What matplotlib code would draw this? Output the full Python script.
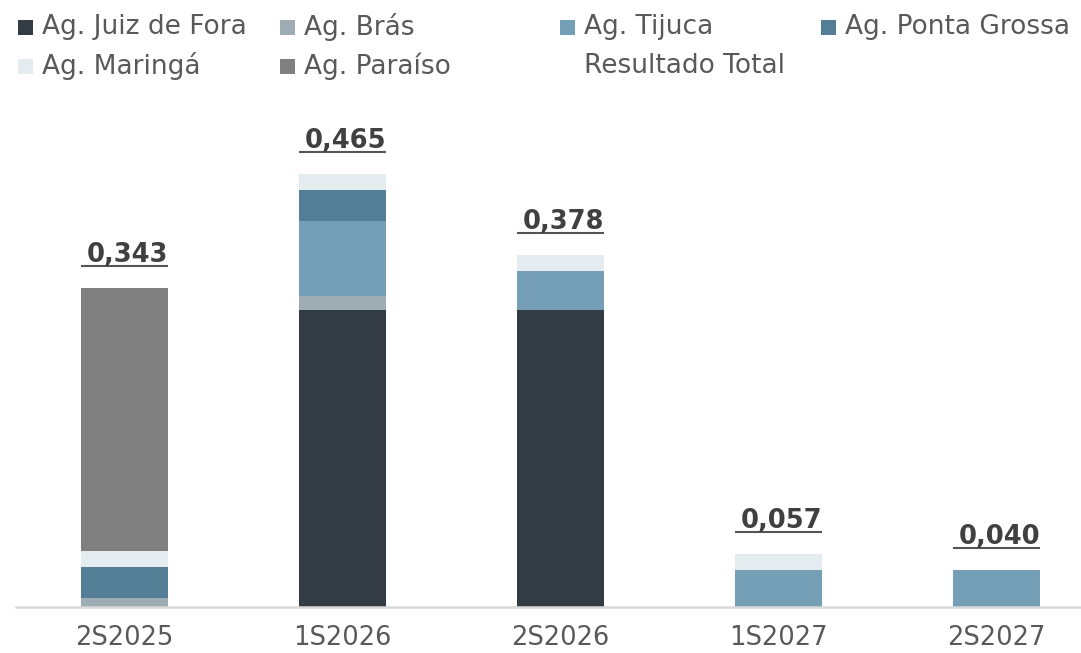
import matplotlib
matplotlib.use("Agg")
import matplotlib.pyplot as plt
import matplotlib.transforms as mtransforms
from matplotlib.patches import Rectangle
import numpy as np

# ------------------------------------------------------------
# Data
# ------------------------------------------------------------
periodos = ["2S2025", "1S2026", "2S2026", "1S2027", "2S2027"]
juiz_de_fora = [0.000, 0.319, 0.319, 0.000, 0.000]
bras = [0.010, 0.015, 0.000, 0.000, 0.000]
tijuca = [0.000, 0.081, 0.042, 0.040, 0.040]
ponta_grossa = [0.033, 0.033, 0.000, 0.000, 0.000]
maringa = [0.017, 0.017, 0.017, 0.017, 0.000]
paraiso = [0.283, 0.000, 0.000, 0.000, 0.000]
resultado_total = [0.343, 0.465, 0.378, 0.057, 0.040]
total_labels = ["0,343", "0,465", "0,378", "0,057", "0,040"]

series = [
    ("Ag. Juiz de Fora", juiz_de_fora, "#323c42"),
    ("Ag. Brás", bras, "#9eadb4"),
    ("Ag. Tijuca", tijuca, "#759fb6"),
    ("Ag. Ponta Grossa", ponta_grossa, "#547d96"),
    ("Ag. Maringá", maringa, "#e4ecf0"),
    ("Ag. Paraíso", paraiso, "#808080"),
]

TEXT = "#595959"
LABEL = "#404040"

# ------------------------------------------------------------
# Figure
# ------------------------------------------------------------
W, H = 1081, 653
fig = plt.figure(figsize=(W / 100, H / 100), dpi=100)
plt.rcParams["font.family"] = ["DejaVu Sans"]

ax_left, ax_bottom, ax_top = 15.5, 607, 100
ax = fig.add_axes([ax_left / W, (H - ax_bottom) / H, (W - ax_left) / W, (ax_bottom - ax_top) / H])

x = np.arange(len(periodos))
bottom = np.zeros(len(periodos))
for name, vals, color in series:
    ax.bar(x, vals, width=0.4, bottom=bottom, color=color, label=name, linewidth=0)
    bottom += np.array(vals)

ax.set_xlim(-0.5, 4.388)
ax.set_ylim(0, 0.545)

for s in ["top", "right", "left"]:
    ax.spines[s].set_visible(False)
ax.spines["bottom"].set_color("#d9d9d9")
ax.spines["bottom"].set_linewidth(1.8)
ax.set_yticks([])
ax.set_xticks(x)
ax.set_xticklabels(periodos, fontsize=18.5, color=TEXT)
ax.tick_params(axis="x", length=0, pad=13)

# total labels, underlined
line_tr = mtransforms.offset_copy(ax.transData, fig=fig, y=22, units="dots")
text_tr = mtransforms.offset_copy(ax.transData, fig=fig, x=3, y=26, units="dots")
for i, tot in enumerate(resultado_total):
    ax.plot([i - 0.2, i + 0.2], [tot, tot], color="#555555", linewidth=1.5,
            transform=line_tr, solid_capstyle="butt")
    ax.text(i, tot, total_labels[i], transform=text_tr, ha="center", va="baseline",
            fontsize=18.5, fontweight="bold", color=LABEL)

# legend (4 columns, 2 rows)
legend_items = [
    ("Ag. Juiz de Fora", "#323c42", 18, 27),
    ("Ag. Brás", "#9eadb4", 280, 27),
    ("Ag. Tijuca", "#759fb6", 560, 27),
    ("Ag. Ponta Grossa", "#547d96", 821, 27),
    ("Ag. Maringá", "#e4ecf0", 18, 66),
    ("Ag. Paraíso", "#808080", 280, 66),
    ("Resultado Total", None, 560, 66),
]
for name, color, px, py in legend_items:
    if color is not None:
        fig.add_artist(Rectangle((px / W, (H - py - 7.5) / H), 15 / W, 15 / H,
                                 transform=fig.transFigure, color=color, linewidth=0))
    fig.text((px + 24) / W, (H - py) / H, name, ha="left", va="center",
             fontsize=19, color=TEXT)

fig.savefig("out.png", dpi=100)
